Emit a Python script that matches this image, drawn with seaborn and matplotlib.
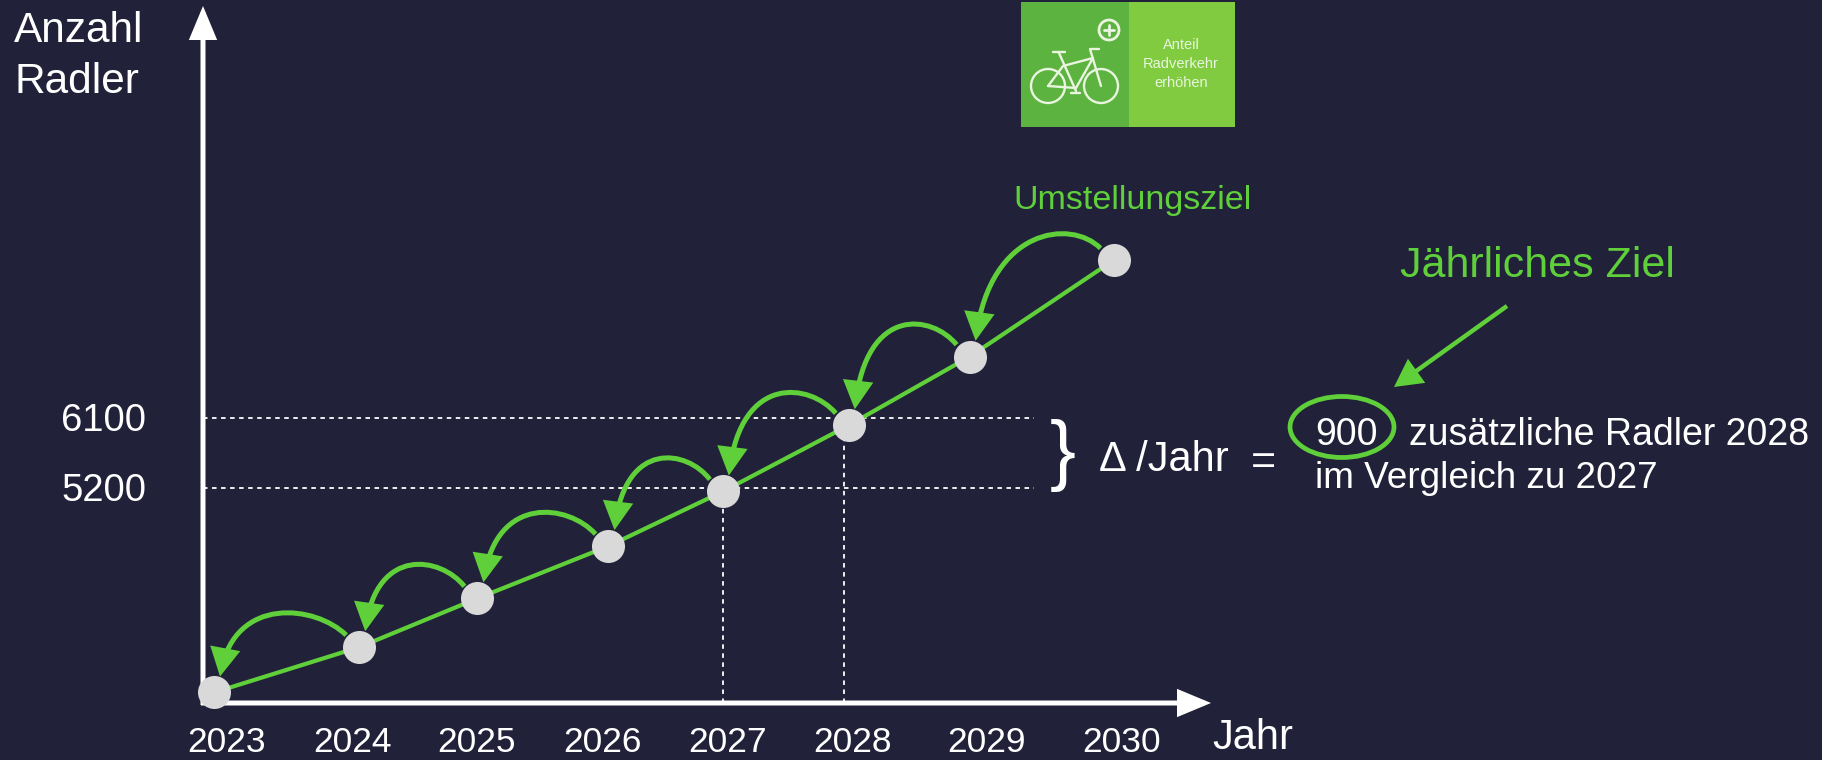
#!/usr/bin/env python3
"""Jaehrliches Radler-Ziel: Umstellungspfad 2023 bis 2030."""

import matplotlib
matplotlib.use("Agg")
import matplotlib.pyplot as plt
import pandas as pd
import seaborn as sns
from matplotlib.patches import Circle, Ellipse, FancyArrowPatch, Rectangle
from matplotlib.path import Path
from matplotlib.transforms import Affine2D, IdentityTransform

WIDTH, HEIGHT = 1822, 760

# drawn positions of the points are not evenly spaced in the original
YEAR_POS = [2023.0, 2024.13, 2025.05, 2026.07, 2026.96, 2027.94, 2028.88, 2030.0]
RADLER = [2560, 3145, 3775, 4450, 5155, 6010, 6895, 8140]
TICK_YEARS = ["2023", "2024", "2025", "2026", "2027", "2028", "2029", "2030"]
TICK_POS = [2023.1, 2024.08, 2025.04, 2026.02, 2027.0, 2027.97, 2029.01, 2030.06]
REF_VALUES = [6100, 5200]
REF_LABELS = ["6100", "5200"]
DROP_YEARS = [2026.96, 2027.9]
DROP_TOPS = [5155, 6010]

BG = "#22213a"
GREEN = "#5fd03a"
WHITE = "#ffffff"
DOT = "#d9d9d9"

sns.set_theme(style="white")
plt.rcParams["font.family"] = ["Liberation Sans", "DejaVu Sans"]

# pixel coordinates from the top left, used for the annotation layer
px = Affine2D().scale(1, -1).translate(0, HEIGHT)


def draw_text(ax, x, y, s, size, color=WHITE, ha="center", va="center", **kw):
    ax.text(x, y, s, fontsize=size, color=color, ha=ha, va=va, transform=px, **kw)


def draw_axis_arrow(ax, start, end):
    ax.add_patch(FancyArrowPatch(
        start, end, transform=px, arrowstyle="-|>,head_length=18,head_width=7.5",
        mutation_scale=1, color=WHITE, lw=3.6, shrinkA=0, shrinkB=0, zorder=2,
        joinstyle="miter", capstyle="butt",
    ))


def draw_hops(ax, data):
    # curved arrows running back from each point to the one before it
    pts = ax.transData.transform(data[["x", "y"]].to_numpy())
    for (x0, y0), (x1, y1) in zip(pts[:-1], pts[1:]):
        p0 = (x1 - 13, y1 + 12)
        p3 = (x0 + 6, y0 + 16)
        dx, dy = p0[0] - p3[0], p0[1] - p3[1]
        p1 = (p0[0] - 0.24 * dx, p0[1] + 30)
        p2 = (p3[0] + 0.12 * dx, p3[1] + min(dy + 40, 112))
        path = Path([p0, p1, p2, p3], [Path.MOVETO, Path.CURVE4, Path.CURVE4, Path.CURVE4])
        ax.add_patch(FancyArrowPatch(
            path=path, transform=IdentityTransform(),
            arrowstyle="-|>,head_length=15,head_width=8",
            mutation_scale=1, color=GREEN, lw=3.6, zorder=6,
            joinstyle="miter", capstyle="butt",
        ))


def draw_icon(ax):
    ax.add_patch(Rectangle((1021, 2), 108, 125, transform=px, color="#5db340", lw=0))
    ax.add_patch(Rectangle((1129, 2), 106, 125, transform=px, color="#80cb40", lw=0))
    line = "#e9f5df"
    for cx in (1048, 1101):
        ax.add_patch(Circle((cx, 86), 17, transform=px, fill=False, ec=line, lw=1.7))
    bars = [
        [(1048, 86), (1063, 66), (1093, 58), (1076, 88), (1048, 86)],
        [(1059, 53), (1076, 91)],
        [(1053, 52), (1065, 52)],
        [(1090, 49), (1101, 86)],
        [(1091, 49), (1099, 49)],
        [(1071, 93), (1080, 93)],
    ]
    for bar in bars:
        xs, ys = zip(*bar)
        ax.plot(xs, ys, color=line, lw=1.7, transform=px, solid_capstyle="round")
    ax.add_patch(Circle((1109, 30), 10, transform=px, fill=False, ec=line, lw=2))
    ax.plot([1104, 1114], [30, 30], color=line, lw=2, transform=px)
    ax.plot([1109, 1109], [25, 35], color=line, lw=2, transform=px)
    for y, word in zip((45, 64, 83), ("Anteil", "Radverkehr", "erhöhen")):
        draw_text(ax, 1181, y, word, 10.5, color=line)


def main():
    data = pd.DataFrame({"x": YEAR_POS, "y": RADLER})

    fig = plt.figure(figsize=(WIDTH / 100, HEIGHT / 100), dpi=100, facecolor=BG)
    ax = fig.add_axes([0, 0, 1, 1], facecolor=BG)
    ax.set_xlim(2023 - 214 / 128.5, 2023 + (WIDTH - 214) / 128.5)
    ax.set_ylim(5200 - (HEIGHT - 488) * 12.91, 5200 + 488 * 12.91)
    ax.axis("off")

    sns.lineplot(data=data, x="x", y="y", color=GREEN, lw=3, estimator=None, ax=ax, zorder=3)
    sns.scatterplot(data=data, x="x", y="y", color=DOT, s=565, linewidth=0, ax=ax, zorder=5)
    ax.axis("off")

    x_start = ax.get_xlim()[0] + 203 / 128.5
    x_end = ax.get_xlim()[0] + 1034 / 128.5
    axis_y = ax.get_ylim()[0] + (HEIGHT - 703) * 12.91
    ax.hlines(REF_VALUES, x_start, x_end, color=WHITE, lw=1.3, ls=(0, (2.5, 2.5)), zorder=1)
    ax.vlines(DROP_YEARS, axis_y, DROP_TOPS, color=WHITE, lw=1.3, ls=(0, (2.5, 2.5)), zorder=1)

    draw_axis_arrow(ax, (203, 705), (203, 6))
    draw_axis_arrow(ax, (201, 703), (1211, 703))
    draw_hops(ax, data)

    for pos, label in zip(TICK_POS, TICK_YEARS):
        ax.annotate(label, (pos, axis_y), xytext=(0, -40), textcoords="offset pixels",
                    ha="center", va="center", fontsize=25.5, color=WHITE)
    for value, label in zip(REF_VALUES, REF_LABELS):
        ax.annotate(label, (x_start, value), xytext=(-57, -3), textcoords="offset pixels",
                    ha="right", va="center", fontsize=27.5, color=WHITE)

    draw_text(ax, 14, 31, "Anzahl", 30.5, ha="left")
    draw_text(ax, 14, 82, "Radler", 30.5, ha="left")
    draw_text(ax, 1253, 738, "Jahr", 30)

    draw_text(ax, 1132, 200, "Umstellungsziel", 24.5, color=GREEN)
    draw_text(ax, 1537, 266, "Jährliches Ziel", 31, color=GREEN)
    ax.add_patch(FancyArrowPatch(
        (1507, 306), (1394, 387), transform=px, arrowstyle="-|>,head_length=15,head_width=8",
        mutation_scale=1, color=GREEN, lw=3.2, shrinkA=0, shrinkB=0,
        joinstyle="miter", capstyle="butt",
    ))

    draw_text(ax, 1063, 456, "}", 56, fontweight="light")
    draw_text(ax, 1099, 460, "Δ /Jahr", 30, ha="left")
    draw_text(ax, 1263, 463, "=", 31)
    draw_text(ax, 1315, 435, "900", 27, ha="left")
    draw_text(ax, 1409, 435, "zusätzliche Radler 2028", 27, ha="left")
    draw_text(ax, 1315, 479, "im Vergleich zu 2027", 26.6, ha="left")
    ax.add_patch(Ellipse((1342, 427), 104, 61, transform=px, fill=False, ec=GREEN, lw=3.4))

    draw_icon(ax)

    fig.savefig("out.png", dpi=100, facecolor=BG)
    plt.close(fig)


if __name__ == "__main__":
    main()
